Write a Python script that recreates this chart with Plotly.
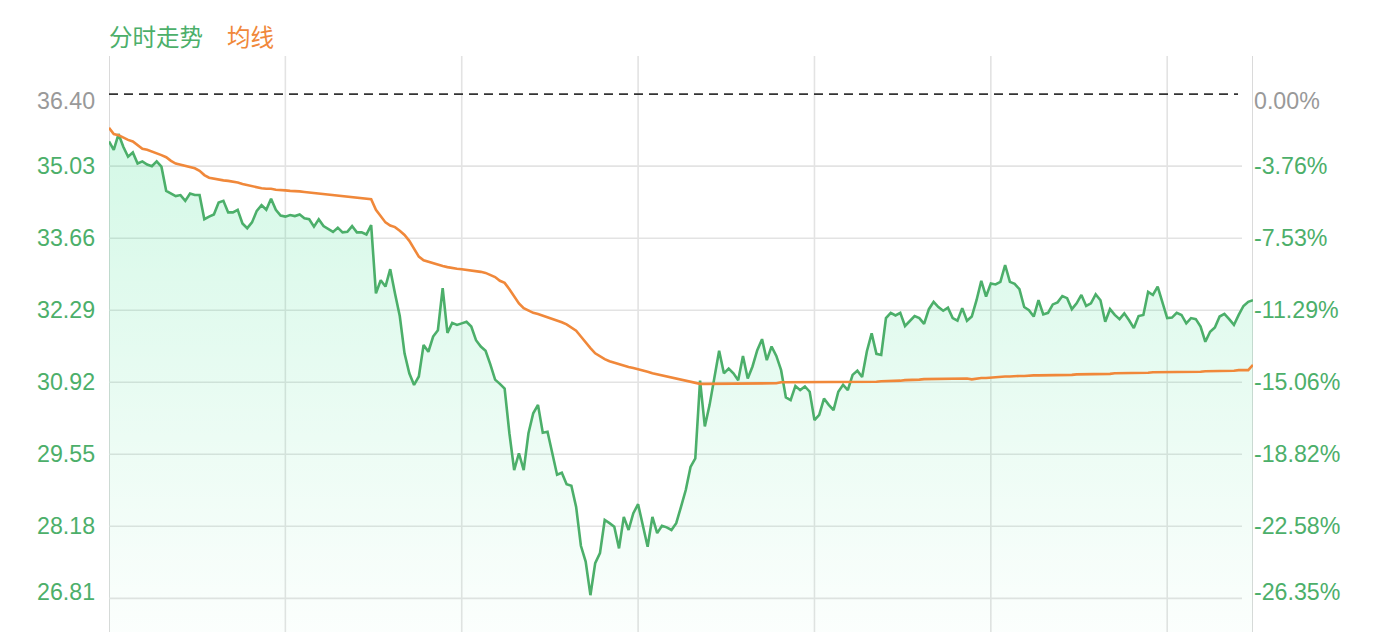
import plotly.graph_objects as go

# ---------------- data ----------------
prev_close = 36.40

price = [
    35.50, 35.34, 35.64, 35.40, 35.21, 35.29, 35.08, 35.12, 35.06, 35.03,
    35.12, 35.02, 34.56, 34.51, 34.46, 34.48, 34.37, 34.51, 34.48, 34.48,
    34.02, 34.07, 34.11, 34.34, 34.37, 34.15, 34.15, 34.20, 33.94, 33.85,
    33.96, 34.18, 34.29, 34.20, 34.41, 34.20, 34.09, 34.07, 34.10, 34.08,
    34.11, 34.04, 34.02, 33.88, 34.02, 33.89, 33.83, 33.78, 33.86, 33.77,
    33.78, 33.89, 33.77, 33.77, 33.73, 33.91, 32.61, 32.86, 32.74, 33.07,
    32.61, 32.18, 31.47, 31.09, 30.87, 31.03, 31.63, 31.50, 31.79, 31.91,
    32.71, 31.86, 32.05, 32.01, 32.04, 32.07, 31.98, 31.72, 31.60, 31.52,
    31.26, 30.97, 30.89, 30.80, 29.95, 29.25, 29.57, 29.25, 29.95, 30.33,
    30.49, 29.96, 29.98, 29.60, 29.16, 29.20, 28.98, 28.95, 28.55, 27.81,
    27.51, 26.87, 27.48, 27.67, 28.30, 28.24, 28.17, 27.76, 28.36, 28.11,
    28.43, 28.60, 28.20, 27.79, 28.36, 28.05, 28.19, 28.16, 28.11, 28.24,
    28.55, 28.87, 29.31, 29.47, 30.95, 30.08, 30.49, 30.99, 31.52, 31.09,
    31.18, 31.09, 30.96, 31.42, 30.99, 31.22, 31.53, 31.74, 31.34, 31.60,
    31.42, 31.15, 30.63, 30.58, 30.85, 30.77, 30.84, 30.74, 30.20, 30.30,
    30.61, 30.49, 30.39, 30.74, 30.87, 30.77, 31.06, 31.14, 31.02, 31.51,
    31.85, 31.46, 31.44, 32.14, 32.24, 32.19, 32.24, 31.99, 32.08, 32.18,
    32.14, 32.03, 32.31, 32.45, 32.35, 32.28, 32.34, 32.14, 32.09, 32.33,
    32.09, 32.17, 32.48, 32.85, 32.55, 32.80, 32.78, 32.83, 33.15, 32.83,
    32.79, 32.69, 32.35, 32.29, 32.17, 32.48, 32.21, 32.24, 32.40, 32.44,
    32.56, 32.52, 32.31, 32.42, 32.58, 32.37, 32.42, 32.59, 32.48, 32.07,
    32.31, 32.20, 32.12, 32.23, 32.10, 31.95, 32.18, 32.20, 32.64, 32.58,
    32.74, 32.42, 32.14, 32.15, 32.24, 32.20, 32.04, 32.14, 32.12, 31.98,
    31.69, 31.88, 31.96, 32.17, 32.22, 32.12, 32.01, 32.20, 32.37, 32.45,
    32.48,
]

avg = [
    35.76, 35.64, 35.62, 35.57, 35.53, 35.50, 35.43, 35.36, 35.34, 35.31,
    35.27, 35.24, 35.20, 35.13, 35.08, 35.06, 35.03, 35.01, 34.99, 34.94,
    34.86, 34.81, 34.79, 34.77, 34.76, 34.75, 34.74, 34.72, 34.69, 34.67,
    34.65, 34.62, 34.61, 34.60, 34.60, 34.58, 34.58, 34.57, 34.56, 34.56,
    34.55, 34.54, 34.53, 34.51, 34.50, 34.49, 34.48, 34.47, 34.46, 34.45,
    34.44, 34.43, 34.42, 34.42, 34.41, 34.40, 34.20, 34.07, 33.96, 33.90,
    33.87, 33.80, 33.72, 33.61, 33.47, 33.31, 33.24, 33.21, 33.19, 33.16,
    33.13, 33.11, 33.09, 33.08, 33.07, 33.06, 33.05, 33.04, 33.02, 33.00,
    32.96, 32.92, 32.85, 32.81, 32.69, 32.56, 32.42, 32.33, 32.28, 32.24,
    32.22, 32.19, 32.16, 32.13, 32.10, 32.06, 32.02, 31.96, 31.90, 31.79,
    31.67, 31.57, 31.47, 31.41, 31.36, 31.32, 31.29, 31.26, 31.24, 31.21,
    31.19, 31.17, 31.14, 31.12, 31.09, 31.07, 31.05, 31.03, 31.02, 31.00,
    30.98, 30.96, 30.94, 30.91, 30.89, 30.89, 30.89, 30.89, 30.89, 30.89,
    30.89, 30.89, 30.89, 30.89, 30.89, 30.89, 30.89, 30.90, 30.90, 30.90,
    30.90, 30.92, 30.92, 30.92, 30.92, 30.92, 30.92, 30.92, 30.92, 30.92,
    30.92, 30.92, 30.92, 30.92, 30.92, 30.92, 30.92, 30.92, 30.92, 30.92,
    30.93, 30.93, 30.94, 30.94, 30.95, 30.95, 30.95, 30.96, 30.96, 30.97,
    30.97, 30.98, 30.98, 30.98, 30.98, 30.99, 30.99, 30.99, 30.99, 30.99,
    30.99, 30.975, 30.99, 31.00, 31.00, 31.01, 31.01, 31.02, 31.03, 31.03,
    31.04, 31.04, 31.04, 31.05, 31.05, 31.05, 31.05, 31.06, 31.06, 31.06,
    31.06, 31.06, 31.06, 31.07, 31.07, 31.07, 31.07, 31.08, 31.08, 31.08,
    31.08, 31.09, 31.09, 31.09, 31.09, 31.10, 31.10, 31.10, 31.10, 31.11,
    31.11, 31.11, 31.11, 31.11, 31.11, 31.11, 31.12, 31.12, 31.12, 31.12,
    31.13, 31.13, 31.13, 31.13, 31.14, 31.14, 31.14, 31.15, 31.15, 31.15,
    31.25,
]

left_ticks = [36.40, 35.03, 33.66, 32.29, 30.92, 29.55, 28.18, 26.81]
right_ticks = ["0.00%", "-3.76%", "-7.53%", "-11.29%", "-15.06%", "-18.82%", "-22.58%", "-26.35%"]
legend_labels = ["分时走势", "均线"]

# trading minutes 09:30-11:30, 13:01-15:00
times = [f"{9 + (30 + m) // 60:02d}:{(30 + m) % 60:02d}" for m in range(121)] + \
        [f"{13 + m // 60:02d}:{m % 60:02d}" for m in range(1, 121)]
assert len(price) == len(times) == len(avg)

# ---------------- style ----------------
GREEN = "#4caf6a"
ORANGE = "#f0883a"
GRAY = "#999999"
GRID = "#e3e3e3"
NUM_FONT = "Liberation Sans, Arial, Helvetica, sans-serif"
CJK_FONT = "Noto Sans CJK SC, sans-serif"

Y_MIN, Y_MAX = 26.17, 37.125

fig = go.Figure()

fig.add_trace(go.Scatter(
    x=times, y=price, mode="lines",
    line=dict(color=GREEN, width=2.6),
    fill="tozeroy",
    fillgradient=dict(
        type="vertical",
        start=Y_MIN, stop=35.7,
        colorscale=[[0, "rgba(0,215,110,0.015)"], [1, "rgba(0,215,110,0.17)"]],
    ),
    hoverinfo="skip", showlegend=False,
))
fig.add_trace(go.Scatter(
    x=times, y=avg, mode="lines",
    line=dict(color=ORANGE, width=2.6),
    hoverinfo="skip", showlegend=False,
))

shapes = []
# vertical grid lines
for i in range(37, len(times) - 1, 37):
    shapes.append(dict(type="line", xref="x", yref="paper", x0=times[i], x1=times[i],
                       y0=0, y1=1, line=dict(color=GRID, width=1.6), layer="below"))
# axis side lines
for i in (0, len(times) - 1):
    shapes.append(dict(type="line", xref="x", yref="paper", x0=times[i], x1=times[i],
                       y0=0, y1=1, line=dict(color="#dadada", width=2), layer="below"))
# horizontal grid lines
for v in left_ticks[1:]:
    shapes.append(dict(type="line", xref="paper", yref="y", x0=0, x1=0.9904,
                       y0=v, y1=v, line=dict(color=GRID, width=1.6), layer="below"))
# previous close dashed line
shapes.append(dict(type="line", xref="paper", yref="y", x0=0, x1=0.9869,
                   y0=prev_close, y1=prev_close,
                   line=dict(color="#333333", width=1.6, dash="9px,6px"), layer="above"))

annotations = []
n = len(left_ticks)
for k, (v, pct) in enumerate(zip(left_ticks, right_ticks)):
    col = GRAY if k == 0 else GREEN
    shift = -7 if k == 0 else (6 if k == n - 1 else 0)
    annotations.append(dict(xref="paper", yref="y", x=-0.0105, y=v, text=f"{v:.2f}",
                            xanchor="right", yanchor="middle", yshift=shift, showarrow=False,
                            font=dict(family=NUM_FONT, size=23.2, color=col)))
    annotations.append(dict(xref="paper", yref="y", x=0.9988, y=v, text=pct,
                            xanchor="left", yanchor="middle", yshift=shift, showarrow=False,
                            font=dict(family=NUM_FONT, size=23.2, color=col)))

annotations.append(dict(xref="paper", yref="paper", x=-0.0015, y=1.0345, text=legend_labels[0],
                        xanchor="left", yanchor="middle", showarrow=False,
                        font=dict(family=CJK_FONT, size=23.5, color=GREEN)))
annotations.append(dict(xref="paper", yref="paper", x=0.1015, y=1.0345, text=legend_labels[1],
                        xanchor="left", yanchor="middle", showarrow=False,
                        font=dict(family=CJK_FONT, size=23.5, color=ORANGE)))

# page body has an 8px margin: figure occupies screen 8..1374 x 8..632
fig.update_layout(
    width=1366, height=624,
    margin=dict(l=101, r=121, t=48, b=0, pad=0),
    paper_bgcolor="white", plot_bgcolor="white",
    shapes=shapes, annotations=annotations,
    xaxis=dict(type="category", range=[0, len(times) - 1], showgrid=False, zeroline=False,
               showticklabels=False, showline=False, fixedrange=True),
    yaxis=dict(range=[Y_MIN, Y_MAX], showgrid=False, zeroline=False,
               showticklabels=False, showline=False, fixedrange=True),
    hovermode=False,
)

fig.write_html("out.html", config={"displayModeBar": False})
